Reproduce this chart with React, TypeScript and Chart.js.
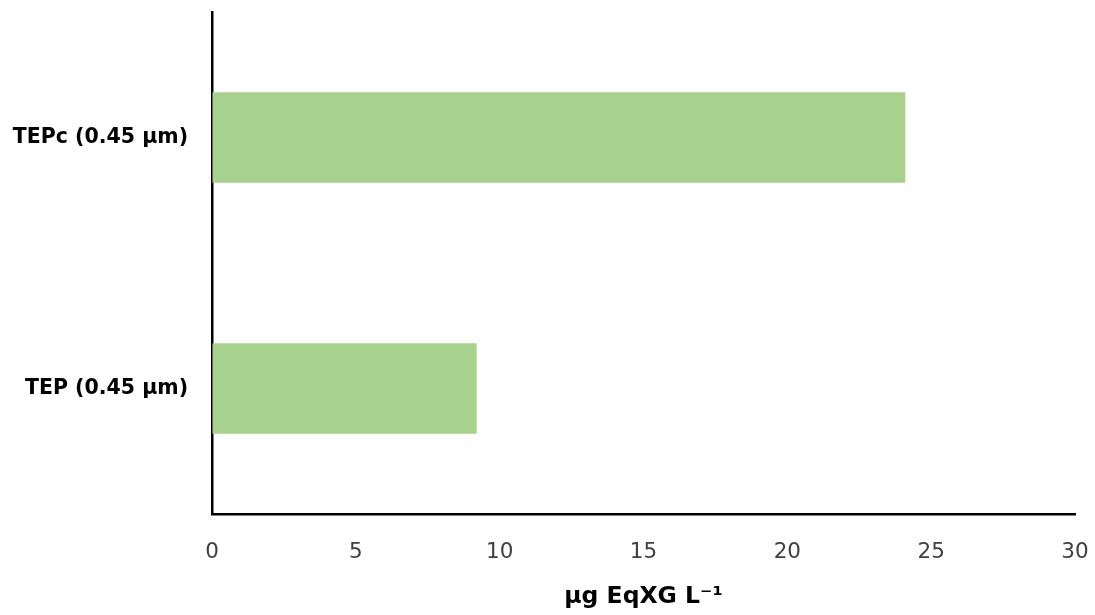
import React, { useEffect, useRef } from "react";
import { Chart, registerables } from "chart.js";

Chart.register(...registerables);

const categories = ["TEPc (0.45 µm)", "TEP (0.45 µm)"];
const values = [24.1, 9.2];
const xTicks = [0, 5, 10, 15, 20, 25, 30];
const xTitle = "µg EqXG L⁻¹";

export default function App() {
  const ref = useRef<HTMLCanvasElement | null>(null);
  useEffect(() => {
    if (!ref.current) return;
    const chart = new Chart(ref.current, {
      type: "bar",
      data: {
        labels: categories,
        datasets: [
          {
            data: values,
            backgroundColor: "#a9d18e",
            borderWidth: 0,
            barPercentage: 0.72,
            categoryPercentage: 0.5,
          },
        ],
      },
      options: {
        indexAxis: "y",
        animation: false,
        responsive: false,
        maintainAspectRatio: false,
        layout: { padding: { top: 12, right: 20, left: 0, bottom: 0 } },
        plugins: { legend: { display: false }, tooltip: { enabled: false } },
        scales: {
          x: {
            type: "linear",
            min: xTicks[0],
            max: xTicks[xTicks.length - 1],
            afterBuildTicks: (s: any) => {
              s.ticks = xTicks.map((v) => ({ value: v }));
            },
            afterFit: (s: any) => {
              s.height = 101;
              s.paddingLeft = 0;
              s.paddingRight = 0;
              s.paddingTop = 0;
              s.paddingBottom = 0;
            },
            grid: { display: true, color: "transparent", drawTicks: false },
            border: { display: true, color: "#000000", width: 2.5 },
            ticks: {
              padding: 26,
              color: "#404040",
              font: { family: "DejaVu Sans", size: 21.5 },
            },
            title: {
              display: true,
              text: xTitle,
              color: "#000000",
              font: { family: "DejaVu Sans", size: 23.5, weight: "bold" },
              padding: { top: 0, bottom: 4 },
            },
          },
          y: {
            afterFit: (s: any) => {
              s.width = 212;
              s.paddingLeft = 0;
              s.paddingRight = 0;
              s.paddingTop = 0;
              s.paddingBottom = 0;
            },
            grid: { display: true, color: "transparent", drawTicks: false },
            border: { display: true, color: "#000000", width: 2.5 },
            ticks: {
              padding: 24,
              color: "#000000",
              font: { family: "DejaVu Sans", size: 20.5, weight: "bold" },
            },
          },
        },
      },
    } as any);
    return () => chart.destroy();
  }, []);
  return (
    <div style={{ position: "fixed", left: 0, top: 0, width: 1095, height: 615, background: "#ffffff" }}>
      <canvas ref={ref} width={1095} height={615} style={{ width: 1095, height: 615 }} />
    </div>
  );
}
